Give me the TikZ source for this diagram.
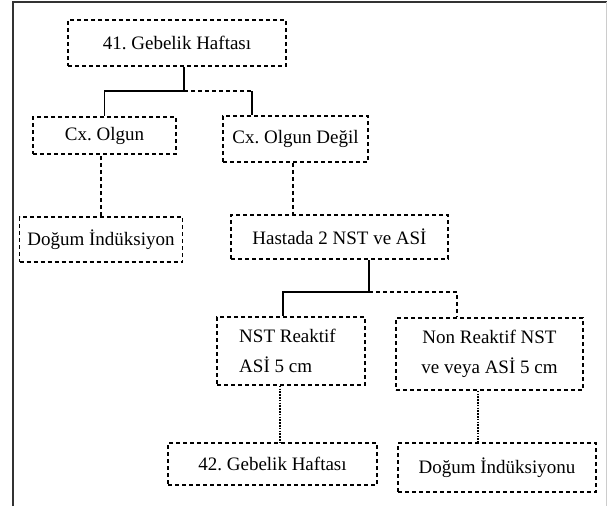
\documentclass[tikz,border=0pt]{standalone}
\usepackage{fontspec}
\setmainfont{Liberation Serif}
\frenchspacing
\begin{document}
\begin{tikzpicture}[x=1pt,y=-1pt,
  box/.style={draw=black, line width=1.6pt, dash pattern=on 4pt off 3pt,
    inner sep=0pt, font=\fontsize{19}{30}\selectfont\frenchspacing, align=center},
  conn/.style={draw=black, line width=1.6pt},
  dconn/.style={conn, dash pattern=on 4pt off 3pt},
  tconn/.style={conn, line width=1.8pt, dash pattern=on 1.6pt off 1.2pt}]
\useasboundingbox (0,0) rectangle (607,506);
% frame
\draw[line width=2pt, draw=black!80] (13,506) -- (13,2) -- (607,2);
\draw[line width=1pt, draw=black!20] (606,2) -- (606,506);

% boxes
\node[box, minimum width=218pt, minimum height=46pt] (b1) at (177,43) {41. Gebelik Haftası};
\node[box, minimum width=143pt, minimum height=37pt] (b2) at (104.5,135.5) {Cx. Olgun};
\node[box, minimum width=145pt, minimum height=46pt] (b3) at (295.5,139) {Cx. Olgun Değil};
\node[box, minimum width=163pt, minimum height=45pt] (b4) at (101,239.5) {Doğum İndüksiyon};
\node[box, minimum width=217pt, minimum height=44pt] (b5) at (339.5,237) {Hastada 2 NST ve ASİ};
\node[box, minimum width=148pt, minimum height=68pt, align=left] (b6) at (291,351) {\hspace*{-7pt}NST Reaktif\\\hspace*{-7pt}ASİ 5 cm};
\node[box, minimum width=187pt, minimum height=72pt] (b7) at (489.5,354) {Non Reaktif NST\\ve veya ASİ 5 cm};
\node[box, minimum width=209pt, minimum height=42pt] (b8) at (272.5,464) {42. Gebelik Haftası};
\node[box, minimum width=198pt, minimum height=49pt] (b9) at (497,467.5) {Doğum İndüksiyonu};

% junction coordinates
\coordinate (j1) at (184,91);
\coordinate (j2) at (252,91);
\coordinate (j3) at (369,292);
\coordinate (j4) at (283,292);
\coordinate (j5) at (457,292);
\coordinate (d1) at (280,0);
\coordinate (d2) at (478,0);
\coordinate (d3) at (293,0);

% connectors
\draw[conn] (b1.south -| j1) -- (j1) -| (b2.north);
\draw[dconn] (j1) -- (j2);
\draw[conn] (j2) -- (j2 |- b3.north);
\draw[dconn] (b4.north) -- (b4.north |- b2.south);
\draw[dconn] (b3.south -| d3) -- (b5.north -| d3);
\draw[conn] (j3 |- b5.south) -- (j3) -- (j4) -- (j4 |- b6.north);
\draw[dconn] (j3) -- (j5) -- (j5 |- b7.north);
\draw[tconn] (b6.south -| d1) -- (b8.north -| d1);
\draw[tconn] (b7.south -| d2) -- (b9.north -| d2);
\end{tikzpicture}
\end{document}
